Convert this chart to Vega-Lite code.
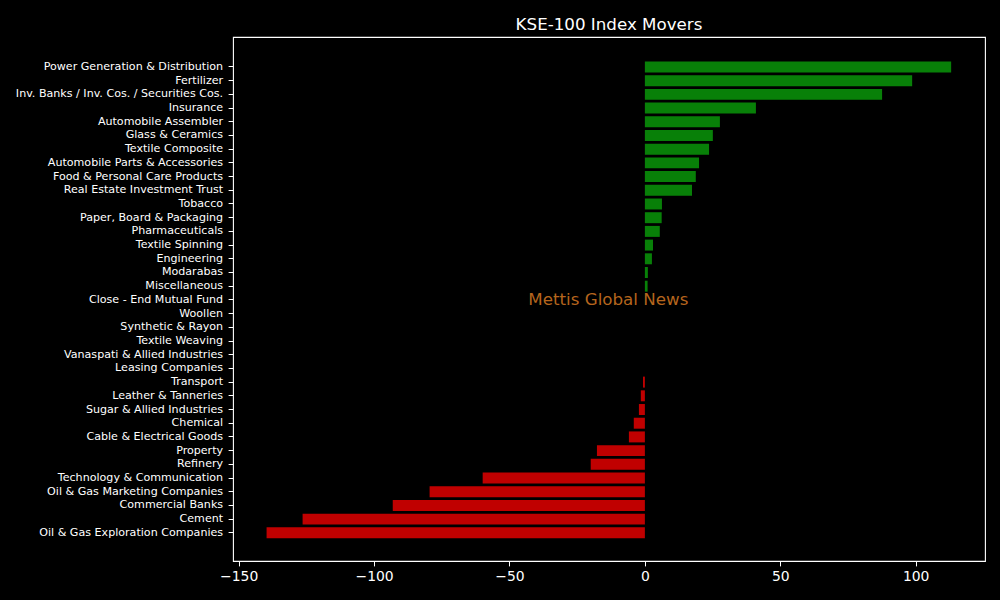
{
  "$schema": "https://vega.github.io/schema/vega-lite/v6.json",
  "width": 752,
  "height": 524,
  "autosize": {"type": "none"},
  "padding": {"left": 233, "top": 37, "right": 15, "bottom": 39},
  "background": "#000000",
  "title": {
    "text": "KSE-100 Index Movers",
    "color": "#ffffff",
    "font": "DejaVu Sans",
    "fontSize": 16.7,
    "fontWeight": "normal",
    "offset": 3
  },
  "config": {
    "view": {"stroke": "#ffffff", "strokeWidth": 1.1},
    "font": "DejaVu Sans"
  },
  "layer": [
    {
      "data": {
        "values": [
          {"sector": "Power Generation & Distribution", "change": 113.1},
          {"sector": "Fertilizer", "change": 98.7},
          {"sector": "Inv. Banks / Inv. Cos. / Securities Cos.", "change": 87.6},
          {"sector": "Insurance", "change": 41.0},
          {"sector": "Automobile Assembler", "change": 27.7},
          {"sector": "Glass & Ceramics", "change": 25.1},
          {"sector": "Textile Composite", "change": 23.7},
          {"sector": "Automobile Parts & Accessories", "change": 20.0},
          {"sector": "Food & Personal Care Products", "change": 18.8},
          {"sector": "Real Estate Investment Trust", "change": 17.4},
          {"sector": "Tobacco", "change": 6.3},
          {"sector": "Paper, Board & Packaging", "change": 6.2},
          {"sector": "Pharmaceuticals", "change": 5.5},
          {"sector": "Textile Spinning", "change": 3.0},
          {"sector": "Engineering", "change": 2.6},
          {"sector": "Modarabas", "change": 1.1},
          {"sector": "Miscellaneous", "change": 1.0},
          {"sector": "Close - End Mutual Fund", "change": 0},
          {"sector": "Woollen", "change": 0},
          {"sector": "Synthetic & Rayon", "change": 0},
          {"sector": "Textile Weaving", "change": 0},
          {"sector": "Vanaspati & Allied Industries", "change": 0},
          {"sector": "Leasing Companies", "change": 0},
          {"sector": "Transport", "change": -0.7},
          {"sector": "Leather & Tanneries", "change": -1.5},
          {"sector": "Sugar & Allied Industries", "change": -2.2},
          {"sector": "Chemical", "change": -4.1},
          {"sector": "Cable & Electrical Goods", "change": -5.9},
          {"sector": "Property", "change": -17.7},
          {"sector": "Refinery", "change": -20.0},
          {"sector": "Technology & Communication", "change": -59.9},
          {"sector": "Oil & Gas Marketing Companies", "change": -79.5},
          {"sector": "Commercial Banks", "change": -93.1},
          {"sector": "Cement", "change": -126.4},
          {"sector": "Oil & Gas Exploration Companies", "change": -139.7}
        ]
      },
      "mark": {"type": "bar"},
      "encoding": {
        "y": {
          "field": "sector",
          "type": "nominal",
          "sort": null,
          "scale": {"paddingInner": 0.2, "paddingOuter": 0, "range": [24.5, 501.3]},
          "axis": {
            "title": null,
            "domain": false,
            "tickColor": "#ffffff",
            "tickSize": 4.9,
            "labelColor": "#ffffff",
            "labelFontSize": 11.1,
            "labelPadding": 5.5,
            "labelLimit": 400
          }
        },
        "x": {
          "field": "change",
          "type": "quantitative",
          "scale": {"domain": [-152.1, 125.6], "nice": false, "zero": false},
          "axis": {
            "title": null,
            "grid": false,
            "domain": false,
            "values": [-150, -100, -50, 0, 50, 100],
            "tickColor": "#ffffff",
            "tickSize": 4.9,
            "labelColor": "#ffffff",
            "labelFontSize": 13.9,
            "labelPadding": 3.5,
            "labelFlush": false
          }
        },
        "color": {
          "condition": {"test": "datum.change > 0", "value": "#088008"},
          "value": "#c00000"
        }
      }
    },
    {
      "data": {"values": [{"label": "Mettis Global News"}]},
      "mark": {
        "type": "text",
        "color": "#b5651d",
        "fontSize": 16.7,
        "fontWeight": "normal",
        "align": "center",
        "baseline": "middle"
      },
      "encoding": {
        "x": {"datum": -13.5, "type": "quantitative"},
        "y": {"datum": "Close - End Mutual Fund", "type": "nominal"},
        "text": {"field": "label", "type": "nominal"}
      }
    }
  ]
}
